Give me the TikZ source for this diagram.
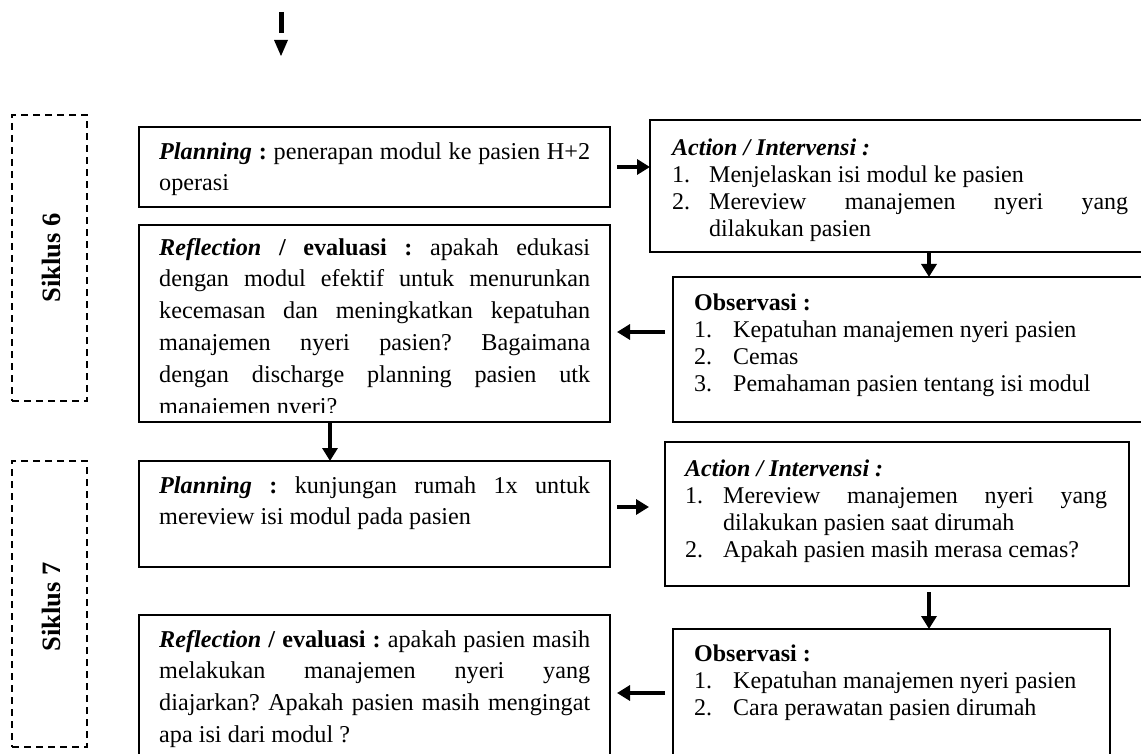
\documentclass[tikz,border=0pt]{standalone}
\usepackage{fontspec}
\setmainfont{Liberation Serif}
\usetikzlibrary{arrows.meta}
\newcommand\lstit[3]{\par\hangindent=#1\hangafter=1\noindent\makebox[#1][l]{#2}#3}
\hbadness=10000
\frenchspacing
\tikzset{
  boxnode/.style={draw, line width=1.5pt, anchor=north west, inner sep=0pt, outer sep=0pt},
  dashbox/.style={draw, line width=1.6pt, dash pattern=on 7pt off 5pt, anchor=north west, inner sep=0pt, outer sep=0pt, minimum width=75pt},
  paratext/.style={anchor=north west, inner sep=0pt, text width=431pt, align=justify, font=\fontsize{24.2}{31.8}\selectfont\frenchspacing},
  listtext/.style={anchor=north west, inner sep=0pt, align=justify, font=\fontsize{24}{27}\selectfont\frenchspacing},
  arr/.style={line width=4pt, -{Triangle[length=13pt,width=15pt]}},
  sikluslabel/.style={rotate=90, inner sep=0pt, font=\fontsize{26.5}{30}\selectfont\bfseries}
}
\begin{document}
\begin{tikzpicture}[x=1pt,y=-1pt]
\useasboundingbox (0,0) rectangle (1141,754);
\clip (0,0) rectangle (1141,754);

% top arrow
\coordinate (t1) at (281,12);
\coordinate (t2) at (281,33);
\draw[line width=5pt] (t1) -- (t2);
\fill (274,40) -- (288,40) -- (281,56) -- cycle;

% cycle frames
\node[dashbox, minimum height=286pt] (s6box) at (12,115) {};
\node[sikluslabel] (s6) at ([xshift=1.5pt]s6box.center) {Siklus 6};
\node[dashbox, minimum height=286pt] (s7box) at (12,461) {};
\node[sikluslabel] (s7) at ([xshift=1.5pt,yshift=-3pt]s7box.center) {Siklus 7};

% boxes
\node[boxnode, minimum width=471pt, minimum height=80pt] (p1) at (139,127) {};
\node[boxnode, minimum width=471pt, minimum height=197pt] (r1) at (139,225) {};
\node[boxnode, minimum width=520pt, minimum height=132pt] (a1) at (650,120) {};
\node[boxnode, minimum width=500pt, minimum height=145pt] (o1) at (673,277) {};
\node[boxnode, minimum width=471pt, minimum height=106pt] (p2) at (139,461) {};
\node[boxnode, minimum width=471pt, minimum height=200pt] (r2) at (139,615) {};
\node[boxnode, minimum width=464pt, minimum height=144pt] (a2) at (665,442) {};
\node[boxnode, minimum width=437pt, minimum height=200pt] (o2) at (673,629) {};

% texts
\node[paratext] (p1t) at (159,136.7) {\strut\textbf{\textit{Planning} :} penerapan modul ke pasien H+2\linebreak operasi\par};
\begin{scope}
\clip (139,225) rectangle (610,412);
\node[paratext] (r1t) at (159,232.7) {\strut\textbf{\textit{Reflection} / evaluasi :} apakah edukasi\linebreak dengan modul efektif untuk menurunkan\linebreak kecemasan dan meningkatkan kepatuhan\linebreak manajemen nyeri pasien? Bagaimana\linebreak dengan discharge planning pasien utk\linebreak manajemen nyeri?\par};
\end{scope}
\node[paratext] (p2t) at (159,470.7) {\strut\textbf{\textit{Planning} :} kunjungan rumah 1x untuk\linebreak mereview isi modul pada pasien\par};
\node[paratext] (r2t) at (159,624.7) {\strut\textbf{\textit{Reflection} / evaluasi :} apakah pasien masih\linebreak melakukan manajemen nyeri yang\linebreak diajarkan? Apakah pasien masih mengingat\linebreak apa isi dari modul ?\par};

\node[listtext, text width=456pt] (a1t) at (672,136.1) {\strut\textbf{\textit{Action / Intervensi :}}\lstit{37pt}{1.}{Menjelaskan isi modul ke pasien}\lstit{37pt}{2.}{Mereview manajemen nyeri yang\linebreak dilakukan pasien}\par};
\node[listtext, text width=420pt] (o1t) at (694,291.1) {\strut\textbf{Observasi :}\lstit{39pt}{1.}{Kepatuhan manajemen nyeri pasien}\lstit{39pt}{2.}{Cemas}\lstit{39pt}{3.}{Pemahaman pasien tentang isi modul}\par};
\node[listtext, text width=422pt] (a2t) at (685,457.1) {\strut\textbf{\textit{Action / Intervensi :}}\lstit{38pt}{1.}{Mereview manajemen nyeri yang\linebreak dilakukan pasien saat dirumah}\lstit{38pt}{2.}{Apakah pasien masih merasa cemas?}\par};
\node[listtext, text width=410pt] (o2t) at (694,642.1) {\strut\textbf{Observasi :}\lstit{39pt}{1.}{Kepatuhan manajemen nyeri pasien}\lstit{39pt}{2.}{Cara perawatan pasien dirumah}\par};

% connectors
\coordinate (cx1) at (929,0);
\coordinate (cx2) at (330,0);
\coordinate (cy1) at (0,332);
\coordinate (cy2) at (0,507);
\coordinate (cy3) at (0,693);
\draw[arr, shorten <=7pt] (p1.east) -- (p1.east -| a1.west);
\draw[arr] (cx1 |- a1.south) -- (cx1 |- o1.north);
\draw[arr, shorten <=8pt, shorten >=7pt] (o1.west |- cy1) -- (r1.east |- cy1);
\draw[arr] (cx2 |- r1.south) -- (cx2 |- p2.north);
\draw[arr, shorten <=7pt, shorten >=16pt] (p2.east |- cy2) -- (a2.west |- cy2);
\draw[arr, shorten <=6pt] (cx1 |- a2.south) -- (cx1 |- o2.north);
\draw[arr, shorten <=8pt, shorten >=7pt] (o2.west |- cy3) -- (r2.east |- cy3);
\end{tikzpicture}
\end{document}
